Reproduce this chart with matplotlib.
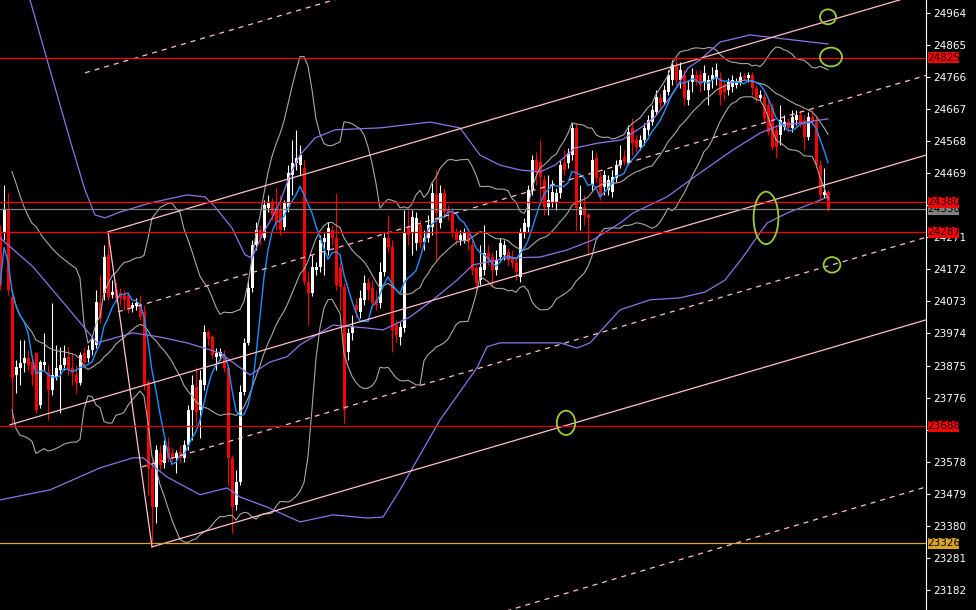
import numpy as np
import pandas as pd
import matplotlib
matplotlib.use("Agg")
import matplotlib.pyplot as plt
from matplotlib.patches import Ellipse, Rectangle

# Velas (OHLC), una por barra
apertura = [24278, 24288, 24356, 24087, 23846, 23868, 23883, 23898, 23886, 23914,
            23753, 23877, 23855, 23800, 23840, 23861, 23877, 23902, 23868, 23846,
            23821, 23914, 23898, 23923, 23939, 24068, 24099, 24217, 24093, 24108,
            24099, 24093, 24093, 24053, 24059, 24062, 24040, 23824, 23559, 23438,
            23605, 23574, 23624, 23605, 23590, 23608, 23590, 23630, 23738, 23809,
            23738, 23815, 23979, 23963, 23902, 23905, 23908, 23868, 23590, 23445,
            23516, 23794, 23945, 24115, 24247, 24294, 24269, 24362, 24377, 24362,
            24356, 24303, 24365, 24464, 24501, 24494, 24485, 24133, 24099, 24170,
            24180, 24257, 24232, 24294, 24269, 24176, 24118, 23917, 23976, 24062,
            24040, 24078, 24130, 24115, 24078, 24068, 24164, 24269, 24241, 24000,
            23963, 23991, 24303, 24285, 24254, 24309, 24257, 24269, 24303, 24402,
            24315, 24408, 24356, 24346, 24285, 24263, 24263, 24285, 24247, 24176,
            24139, 24170, 24223, 24210, 24170, 24210, 24217, 24226, 24210, 24192,
            24149, 24285, 24303, 24417, 24510, 24504, 24448, 24365, 24377, 24377,
            24408, 24501, 24501, 24525, 24609, 24340, 24365, 24340, 24433, 24516,
            24458, 24427, 24417, 24411, 24454, 24494, 24519, 24504, 24609, 24572,
            24550, 24572, 24603, 24627, 24658, 24701, 24689, 24720, 24757, 24803,
            24757, 24772, 24695, 24751, 24772, 24772, 24751, 24726, 24757, 24763,
            24763, 24742, 24726, 24735, 24742, 24751, 24769, 24763, 24772, 24732,
            24701, 24705, 24680, 24670, 24603, 24587, 24612, 24627, 24609, 24633,
            24649, 24633, 24581, 24643, 24627, 24494, 24402, 24411]
maximo = [24309, 24433, 24408, 24093, 23892, 23954, 23954, 23923, 23908, 23917,
          23892, 23976, 23877, 24068, 23939, 23933, 23939, 23933, 23914, 23877,
          23917, 23933, 23939, 23970, 24108, 24155, 24247, 24288, 24139, 24133,
          24115, 24108, 24102, 24071, 24084, 24093, 24062, 23831, 23584, 23630,
          23630, 23645, 23655, 23620, 23614, 23630, 23645, 23753, 23846, 23871,
          23861, 24000, 23985, 23970, 23929, 23929, 23923, 23877, 23599, 23553,
          23815, 23960, 24139, 24263, 24318, 24309, 24386, 24402, 24392, 24423,
          24402, 24386, 24494, 24572, 24603, 24556, 24510, 24164, 24217, 24195,
          24278, 24285, 24318, 24309, 24408, 24195, 24130, 23991, 24031, 24084,
          24108, 24155, 24145, 24139, 24108, 24195, 24285, 24340, 24263, 24016,
          24010, 24356, 24356, 24356, 24349, 24325, 24294, 24340, 24439, 24479,
          24433, 24423, 24371, 24362, 24300, 24294, 24300, 24300, 24263, 24186,
          24247, 24309, 24247, 24226, 24232, 24269, 24263, 24238, 24232, 24207,
          24300, 24331, 24433, 24525, 24535, 24572, 24464, 24464, 24448, 24423,
          24510, 24541, 24547, 24624, 24624, 24433, 24402, 24346, 24541, 24535,
          24473, 24479, 24464, 24479, 24510, 24556, 24541, 24618, 24640, 24587,
          24587, 24624, 24649, 24680, 24726, 24717, 24742, 24788, 24819, 24825,
          24813, 24788, 24757, 24794, 24788, 24788, 24803, 24772, 24797, 24809,
          24782, 24757, 24763, 24772, 24763, 24782, 24779, 24782, 24782, 24742,
          24726, 24717, 24695, 24686, 24618, 24680, 24649, 24640, 24664, 24664,
          24664, 24649, 24658, 24664, 24643, 24510, 24485, 24417]
minimo = [24108, 24263, 24093, 23686, 23791, 23815, 23855, 23861, 23815, 23729,
          23744, 23861, 23707, 23784, 23831, 23729, 23861, 23846, 23815, 23791,
          23815, 23868, 23886, 23908, 23929, 24006, 24078, 24078, 24084, 24068,
          24062, 24047, 24037, 24040, 24047, 24016, 23800, 23476, 23327, 23389,
          23553, 23559, 23577, 23577, 23543, 23577, 23577, 23614, 23645, 23692,
          23651, 23800, 23939, 23898, 23861, 23892, 23855, 23506, 23358, 23429,
          23506, 23784, 23939, 24102, 24232, 24247, 24263, 24349, 24325, 24294,
          24278, 24294, 24349, 24402, 24479, 24464, 24124, 24000, 24090, 24155,
          24164, 24155, 24217, 24247, 24108, 24047, 23698, 23892, 23954, 24022,
          24022, 24062, 24078, 24053, 24047, 24053, 24152, 24226, 23917, 23948,
          23939, 23979, 24247, 24217, 24232, 24238, 24232, 24257, 24278, 24201,
          24300, 24331, 24325, 24272, 24247, 24247, 24254, 24232, 24155, 24108,
          24124, 24155, 24186, 24118, 24155, 24195, 24201, 24186, 24176, 24139,
          24133, 24269, 24288, 24402, 24433, 24386, 24340, 24340, 24365, 24356,
          24393, 24464, 24485, 24510, 24294, 24294, 24309, 24217, 24417, 24442,
          24386, 24402, 24402, 24396, 24442, 24485, 24494, 24494, 24525, 24535,
          24541, 24556, 24587, 24618, 24649, 24670, 24680, 24711, 24742, 24742,
          24732, 24680, 24680, 24720, 24742, 24720, 24726, 24680, 24732, 24742,
          24680, 24695, 24711, 24720, 24732, 24742, 24757, 24751, 24711, 24689,
          24695, 24624, 24587, 24541, 24516, 24556, 24603, 24596, 24596, 24618,
          24612, 24541, 24572, 24618, 24485, 24386, 24393, 24352]
cierre = [24124, 24356, 24108, 23837, 23871, 23883, 23898, 23877, 23846, 23738,
          23886, 23886, 23800, 23846, 23868, 23877, 23898, 23861, 23852, 23821,
          23908, 23886, 23923, 23954, 24071, 24022, 24210, 24087, 24102, 24084,
          24084, 24078, 24047, 24062, 24068, 24025, 23815, 23559, 23438, 23614,
          23568, 23630, 23590, 23590, 23605, 23590, 23630, 23738, 23815, 23732,
          23831, 23979, 23960, 23908, 23914, 23917, 23868, 23590, 23438, 23516,
          23794, 23945, 24115, 24247, 24294, 24269, 24371, 24377, 24340, 24318,
          24294, 24377, 24470, 24501, 24516, 24525, 24133, 24099, 24180, 24180,
          24263, 24269, 24300, 24269, 24124, 24118, 23738, 23976, 23994, 24047,
          24084, 24130, 24108, 24068, 24062, 24164, 24269, 24241, 23985, 23970,
          23994, 24285, 24278, 24334, 24331, 24254, 24269, 24309, 24408, 24346,
          24408, 24349, 24346, 24288, 24263, 24278, 24285, 24257, 24170, 24130,
          24180, 24223, 24201, 24170, 24201, 24254, 24247, 24201, 24192, 24164,
          24285, 24315, 24417, 24510, 24473, 24458, 24365, 24386, 24411, 24408,
          24494, 24479, 24532, 24609, 24362, 24365, 24340, 24331, 24510, 24454,
          24402, 24464, 24448, 24458, 24494, 24510, 24504, 24596, 24562, 24550,
          24572, 24609, 24633, 24664, 24705, 24686, 24726, 24772, 24803, 24757,
          24788, 24701, 24726, 24772, 24751, 24742, 24779, 24757, 24772, 24788,
          24711, 24720, 24751, 24757, 24751, 24766, 24763, 24772, 24732, 24701,
          24711, 24640, 24596, 24550, 24550, 24633, 24627, 24609, 24643, 24649,
          24624, 24581, 24643, 24627, 24494, 24402, 24411, 24358]

# Bandas largas (moradas): (barra, precio)
morada_sup_x = [7.5, 12.5, 17.5, 21.25, 23.75, 26.25, 30, 37.5, 46.75, 51.25, 53.75, 58, 61.25, 63,
                65.5, 68, 70, 72.5, 75, 78.75, 83.75, 95, 107.5, 115, 120, 125, 130, 135, 138.75,
                143.75, 149.5, 155.5, 160.5, 163.75, 168, 172, 175, 180, 187.5, 198.75, 207]
morada_sup_y = [25004, 24788, 24572, 24417, 24340, 24331, 24349, 24377, 24402, 24396, 24365, 24300, 24217, 24207,
                24278, 24331, 24380, 24464, 24525, 24578, 24603, 24609, 24627, 24609, 24525, 24494, 24479, 24473, 24494,
                24547, 24562, 24572, 24612, 24643, 24711, 24794, 24819, 24874, 24896, 24880, 24868]
morada_med_x = [0, 8.25, 16.75, 24.25, 33.25, 40, 46.75, 55, 62.5, 67.5, 71.75, 75, 83.25, 91.75, 95.75,
                102.5, 108.25, 114.25, 118.25, 126.75, 135, 141.75, 148.25, 155, 158.25, 166.75, 175,
                183.25, 190, 195, 200, 207]
morada_med_y = [24269, 24180, 24056, 23945, 23976, 23963, 23945, 23914, 23846, 23886, 23902, 23939, 24000, 23991, 23985,
                24025, 24078, 24139, 24186, 24207, 24210, 24232, 24263, 24315, 24346, 24396, 24470,
                24541, 24593, 24618, 24624, 24637]
morada_inf_x = [0, 12.5, 25, 33.25, 35.75, 41.75, 50, 56.75, 60, 66.75, 75, 83.25, 91.75, 95.75, 100,
                105, 110, 115, 119.25, 121.75, 125, 140, 144.25, 147.5, 155, 162.5, 170, 176.25,
                181.25, 185.75, 189.25, 191.75, 196.75, 203.25, 207]
morada_inf_y = [23460, 23491, 23559, 23590, 23590, 23531, 23476, 23497, 23469, 23438, 23392, 23414, 23404, 23407, 23491,
                23599, 23707, 23794, 23868, 23933, 23945, 23945, 23929, 23945, 24047, 24078, 24084, 24102,
                24139, 24210, 24272, 24315, 24346, 24377, 24396]

# Lineas horizontales y etiquetas de precio
niveles = [24825, 24380, 24358, 24287, 23688, 23326]
colores_nivel = ['#ff0000', '#ff0000', '#808080', '#ff0000', '#e00000', '#e8a030']
etiquetas_nivel = ['24825', '24380', '24358', '24287', '23688', '23326']
fondo_etiqueta = ['#ff0000', '#ff0000', '#808080', '#ff0000', '#ff0000', '#daa520']

# Marcas del eje de precios (las tapadas por etiquetas no llevan texto)
marcas_precio = [24964, 24865, 24766, 24667, 24568, 24469, 24370, 24271, 24172, 24073,
                 23974, 23875, 23776, 23677, 23578, 23479, 23380, 23281, 23182]
marcas_tapadas = [24370, 23677]

# Tridente / canal: (barra inicio, precio inicio, barra fin, precio fin)
lineas_solidas = [(27, 24288, 38, 23315),
                  (27, 24288, 231.5, 25028),
                  (2.5, 23692, 231.5, 24525),
                  (38, 23315, 231.5, 24016)]
lineas_punteadas = [(21.25, 24779, 231.5, 25540),
                    (29.5, 24041, 231.5, 24771),
                    (35.5, 23562, 231.5, 24271),
                    (120, 23093, 231.5, 23500)]

# Elipses verdes: (barra, precio, ancho en barras, alto en precio)
elipses = [(207, 24952, 4.0, 46),
           (207.75, 24828, 5.5, 58),
           (191.5, 24331, 6.2, 162),
           (208, 24186, 4.2, 48),
           (141.5, 23698, 4.6, 75)]

df = pd.DataFrame({'open': apertura, 'high': maximo, 'low': minimo, 'close': cierre})
x = np.arange(len(df))

# Indicadores: media corta (azul) y bandas de Bollinger 20 (grises)
media_azul = df['close'].rolling(7, min_periods=1).mean()
media_20 = df['close'].rolling(20, min_periods=4).mean()
desv_20 = df['close'].rolling(20, min_periods=4).std(ddof=0)
banda_sup = media_20 + 2 * desv_20
banda_inf = media_20 - 2 * desv_20

fig = plt.figure(figsize=(9.76, 6.10), dpi=100, facecolor='black')
ax = fig.add_axes([0, 0, 926 / 976, 1])
ax.set_facecolor('black')

# Velas
alcista = df['close'] >= df['open']
colores = np.where(alcista, 'white', '#ff0000')
ax.vlines(x, df['low'], df['high'], colors=colores, linewidth=0.8, zorder=2)
cuerpo_base = np.minimum(df['open'], df['close'])
cuerpo_alto = np.maximum((df['close'] - df['open']).abs(), 3)
ax.bar(x, cuerpo_alto, bottom=cuerpo_base, width=0.75, color=colores, linewidth=0, zorder=2)

# Indicadores
ax.plot(x, banda_sup, color='#a8a8a8', lw=0.8, zorder=3)
ax.plot(x, media_20, color='#a8a8a8', lw=0.8, zorder=3)
ax.plot(x, banda_inf, color='#a8a8a8', lw=0.8, zorder=3)
ax.plot(morada_sup_x, morada_sup_y, color='#8f72e6', lw=0.9, zorder=3)
ax.plot(morada_med_x, morada_med_y, color='#8f72e6', lw=0.9, zorder=3)
ax.plot(morada_inf_x, morada_inf_y, color='#8f72e6', lw=0.9, zorder=3)
ax.plot(x, media_azul, color='#1e90ff', lw=1.0, zorder=3)

# Canal
for x0, y0, x1, y1 in lineas_solidas:
    ax.plot([x0, x1], [y0, y1], color='#ffc0cb', lw=0.9, zorder=4)
for x0, y0, x1, y1 in lineas_punteadas:
    ax.plot([x0, x1], [y0, y1], color='#ffc0cb', lw=0.9, linestyle=(0, (4, 4)), zorder=4)

# Niveles horizontales
for nivel, col in zip(niveles, colores_nivel):
    ax.axhline(nivel, color=col, lw=0.9, zorder=5)

for cx, cy, w, h in elipses:
    ax.add_patch(Ellipse((cx, cy), w, h, fill=False, edgecolor='#9acd32', lw=1.3, zorder=6))

ax.set_xlim(0, 231.5)
ax.set_ylim(23120, 25004)

# Eje de precios a la derecha
ax.yaxis.tick_right()
ax.set_yticks(marcas_precio)
ax.set_yticklabels(['' if m in marcas_tapadas else str(m) for m in marcas_precio])
ax.tick_params(axis='y', colors='white', length=3, width=0.8, pad=2, labelsize=7.5)
for lab in ax.get_yticklabels():
    lab.set_fontfamily(['Liberation Sans Narrow', 'DejaVu Sans'])
ax.set_xticks([])
for lado in ['top', 'bottom', 'left']:
    ax.spines[lado].set_visible(False)
ax.spines['right'].set_color('white')
ax.spines['right'].set_linewidth(0.8)

# Etiquetas de los niveles
trans = ax.get_yaxis_transform()
for nivel, txt, fondo in zip(niveles, etiquetas_nivel, fondo_etiqueta):
    orden = 7 if fondo == '#808080' else 8
    ax.add_patch(Rectangle((928 / 926, nivel - 17), 31 / 926, 34, transform=trans,
                           facecolor=fondo, edgecolor='none', clip_on=False, zorder=orden))
    ax.text(943.5 / 926, nivel, txt, transform=trans, ha='center', va='center',
            fontsize=7.5, color='black', family=['Liberation Sans Narrow', 'DejaVu Sans'],
            clip_on=False, zorder=orden)

fig.savefig('out.png', dpi=100, facecolor='black')
